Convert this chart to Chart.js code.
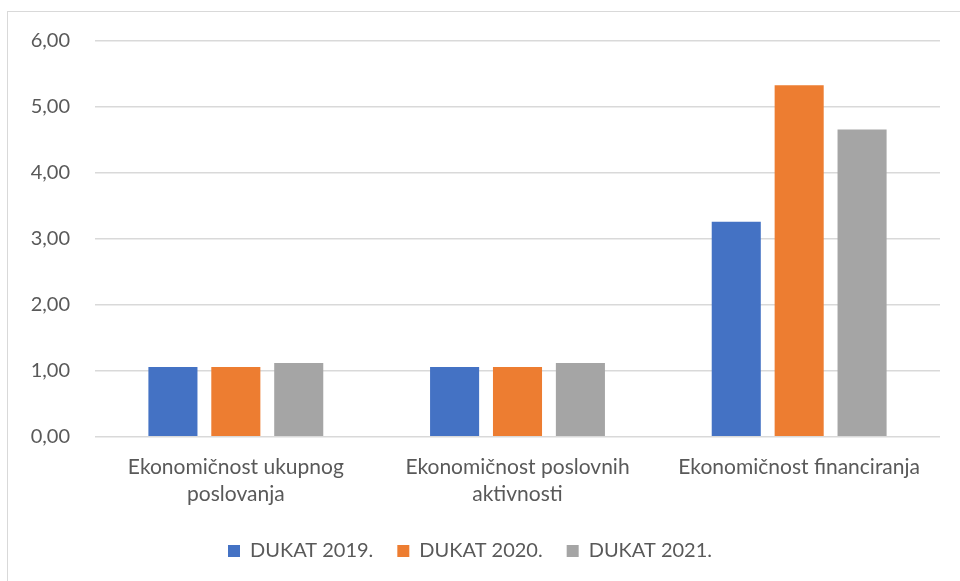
<!DOCTYPE html>
<html>
<head>
<meta charset="utf-8">
<script src="https://cdn.jsdelivr.net/npm/chart.js@4.4.1/dist/chart.umd.min.js"></script>
<style>
html,body{margin:0;padding:0;background:#fff;}
#okvir{position:absolute;left:7px;top:11px;width:970px;height:600px;border:1.5px solid #d9d9d9;}
#graf{position:absolute;left:0;top:0;}
</style>
</head>
<body>
<div id="okvir"></div>
<canvas id="graf" width="960" height="581"></canvas>
<script>
// podaci
var kategorije=[["Ekonomičnost ukupnog","poslovanja"],["Ekonomičnost poslovnih","aktivnosti"],"Ekonomičnost financiranja"];
var dukat2019=[1.06,1.06,3.26];
var dukat2020=[1.06,1.06,5.33];
var dukat2021=[1.12,1.12,4.66];
var godine=["DUKAT 2019.","DUKAT 2020.","DUKAT 2021."];
var boje=["#4472c4","#ed7d31","#a5a5a5"];

var font="Lato, 'Open Sans', sans-serif";
var siva="#595959";

var grafico=new Chart("graf",{
    type:"bar",
    data:{
        labels: kategorije,
        datasets:[
            {label:godine[0],data:dukat2019,backgroundColor:boje[0]},
            {label:godine[1],data:dukat2020,backgroundColor:boje[1]},
            {label:godine[2],data:dukat2021,backgroundColor:boje[2]}
        ]
    },
    options:{
        responsive:false,
        animation:false,
        categoryPercentage:0.67,
        barPercentage:0.78,
        layout:{padding:{top:41,right:20,left:0,bottom:10}},
        plugins:{
            tooltip:{enabled:false},
            legend:{
                position:"bottom",
                labels:{
                    boxWidth:12,boxHeight:12,
                    color:siva,
                    font:{family:font,size:20},
                    padding:24
                }
            }
        },
        scales:{
            x:{
                grid:{display:false},
                border:{display:false},
                ticks:{color:siva,font:{family:font,size:21,lineHeight:1.29},padding:9,maxRotation:0}
            },
            y:{
                min:0,max:6,
                afterFit:function(s){s.width=95;},
                grid:{color:"#d9d9d9",lineWidth:1.5,drawTicks:false},
                border:{display:false},
                ticks:{
                    stepSize:1,
                    color:siva,
                    padding:25,
                    font:{family:font,size:20},
                    callback:function(v){return v.toFixed(2).replace(".",",");}
                }
            }
        }
    }
});
</script>
</body>
</html>
